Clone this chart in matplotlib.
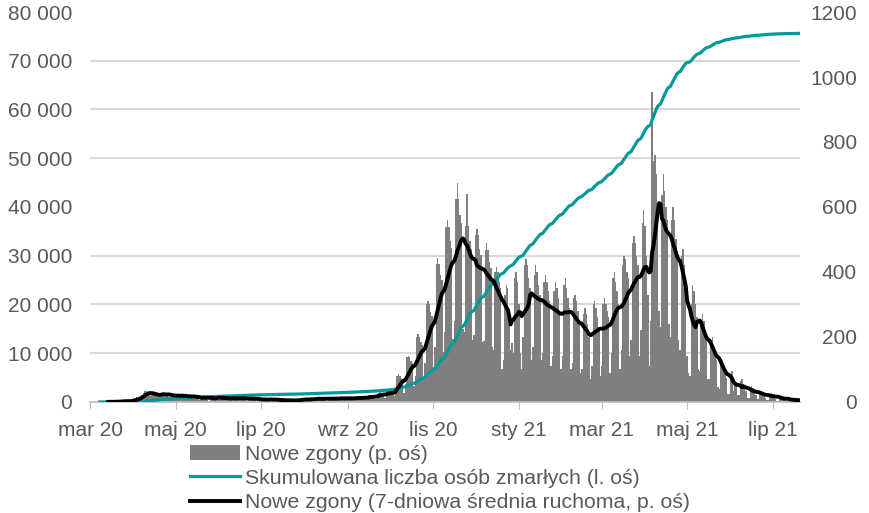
import numpy as np
import pandas as pd
import matplotlib
matplotlib.use("Agg")
import matplotlib.pyplot as plt

plt.rcParams["font.family"] = ["Liberation Sans", "DejaVu Sans"]

# daily new deaths, first value = Sun 8 Mar 2020, then one row per week (Mon..Sun)
new_deaths = [
    0,
    0, 0, 0, 1, 1, 1, 0,
    0, 2, 0, 1, 2, 0, 2,
    4, 2, 4, 2, 3, 2, 2,
    2, 5, 11, 9, 14, 13, 9,
    16, 21, 28, 35, 33, 30, 27,
    18, 20, 25, 27, 22, 26, 15,
    18, 27, 30, 25, 23, 24, 16,
    15, 20, 22, 24, 17, 21, 19,
    9, 24, 23, 17, 20, 18, 12,
    10, 22, 20, 19, 16, 14, 8,
    6, 13, 15, 20, 17, 13, 7,
    3, 12, 18, 10, 14, 17, 12,
    6, 17, 12, 10, 15, 15, 6,
    5, 11, 15, 13, 15, 11, 8,
    6, 13, 15, 13, 14, 10, 3,
    5, 13, 16, 11, 10, 9, 4,
    4, 10, 7, 11, 8, 9, 4,
    3, 12, 10, 7, 9, 8, 3,
    2, 6, 8, 7, 5, 8, 2,
    1, 5, 7, 6, 6, 5, 2,
    3, 9, 9, 11, 8, 11, 2,
    4, 10, 8, 14, 11, 12, 4,
    5, 13, 12, 10, 14, 11, 6,
    4, 15, 12, 11, 14, 10, 8,
    5, 12, 14, 16, 13, 11, 6,
    7, 13, 15, 12, 14, 12, 7,
    6, 15, 18, 14, 16, 12, 9,
    8, 17, 20, 22, 19, 17, 11,
    10, 25, 29, 31, 27, 26, 13,
    12, 35, 38, 36, 33, 30, 18,
    33, 81, 85, 81, 75, 72, 29,
    55, 138, 143, 138, 127, 121, 50,
    80, 200, 208, 200, 184, 176, 72,
    120, 300, 312, 300, 276, 264, 108,
    170, 425, 442, 425, 391, 374, 153,
    215, 538, 559, 538, 495, 473, 194,
    250, 625, 674, 625, 575, 550, 225,
    215, 540, 640, 540, 495, 470, 190,
    205, 513, 533, 513, 472, 451, 185,
    188, 469, 488, 469, 431, 413, 169,
    160, 400, 416, 400, 368, 352, 100,
    130, 330, 360, 350, 240, 160, 180,
    150, 380, 400, 370, 300, 150, 100,
    200, 420, 440, 420, 380, 350, 130,
    170, 390, 420, 400, 360, 330, 130,
    150, 370, 390, 370, 340, 310, 110,
    140, 340, 370, 350, 320, 280, 100,
    140, 360, 380, 350, 320, 290, 100,
    120, 320, 330, 310, 280, 250, 90,
    100, 270, 290, 270, 240, 200, 70,
    110, 300, 310, 290, 260, 230, 80,
    110, 300, 320, 300, 280, 260, 90,
    150, 380, 400, 370, 340, 300, 100,
    160, 420, 450, 440, 400, 380, 140,
    190, 490, 510, 490, 450, 420, 140,
    220, 550, 590, 540, 450, 330, 110,
    250, 954, 740, 760, 700, 600, 280,
    230, 637, 700, 650, 600, 560, 240,
    200, 560, 600, 560, 500, 460, 190,
    160, 450, 470, 420, 350, 140, 90,
    80, 300, 360, 340, 300, 260, 100,
    95, 250, 270, 250, 220, 190, 70,
    70, 190, 200, 175, 155, 130, 45,
    40, 120, 130, 110, 95, 75, 25,
    25, 85, 95, 35, 60, 50, 20,
    20, 65, 70, 55, 45, 35, 12,
    12, 45, 48, 42, 38, 22, 8,
    8, 35, 35, 30, 25, 13, 5,
    6, 26, 28, 24, 18, 10, 4,
    3, 18, 16, 13, 10, 7, 3,
    2, 10, 9, 8, 7, 4, 2,
    1, 6,
]
start_date = "2020-03-08"

tick_dates = ["2020-03-01", "2020-05-01", "2020-07-01", "2020-09-01", "2020-11-01",
              "2021-01-01", "2021-03-01", "2021-05-01", "2021-07-01"]
tick_labels = ["mar 20", "maj 20", "lip 20", "wrz 20", "lis 20",
               "sty 21", "mar 21", "maj 21", "lip 21"]

legend_labels = ["Nowe zgony (p. oś)",
                 "Skumulowana liczba osób zmarłych (l. oś)",
                 "Nowe zgony (7-dniowa średnia ruchoma, p. oś)"]

dates = pd.date_range(start_date, periods=len(new_deaths), freq="D")
daily = pd.Series(new_deaths, index=dates)
avg7 = daily.rolling(7).mean()
cumulative = daily.cumsum()

grey_txt = "#595959"
teal = "#009A9A"

fig = plt.figure(figsize=(8.69, 5.13), dpi=100)
rect = [0.1036, 0.2164, 0.817, 0.7602]
ax_bar = fig.add_axes(rect)
ax_cum = fig.add_axes(rect, sharex=ax_bar)
ax_avg = fig.add_axes(rect, sharex=ax_bar, sharey=ax_bar)

# bottom layer: bars on right scale
bars = ax_bar.bar(dates, daily.values, width=1.0, color="#7F7F7F", linewidth=0)
ax_bar.set_ylim(0, 1200)
ax_bar.set_yticks(np.arange(0, 1201, 200))
ax_bar.set_yticks(np.arange(0, 1201, 150), minor=True)
ax_bar.yaxis.tick_right()
ax_bar.grid(axis="y", which="minor", color="#D9D9D9", linewidth=1.5)
ax_bar.set_axisbelow(True)
ax_bar.tick_params(axis="y", which="both", length=0, labelsize=15, labelcolor=grey_txt, pad=41)
for t in ax_bar.get_yticklabels():
    t.set_ha("right")
for s in ["top", "left", "right"]:
    ax_bar.spines[s].set_visible(False)
ax_bar.spines["bottom"].set_color("#BFBFBF")
ax_bar.spines["bottom"].set_linewidth(1.2)

ax_bar.set_xticks(pd.to_datetime(tick_dates))
ax_bar.set_xticklabels(tick_labels)
ax_bar.tick_params(axis="x", length=5, color="#BFBFBF", labelsize=15, labelcolor=grey_txt, pad=9)
ax_bar.set_xlim(pd.Timestamp("2020-03-01"), pd.Timestamp("2021-07-20") + pd.Timedelta(hours=12))

# middle layer: cumulative on left scale
cum_line, = ax_cum.plot(dates, cumulative.values, color=teal, linewidth=2.3)
ax_cum.set_ylim(0, 80000)
ax_cum.set_yticks(np.arange(0, 80001, 10000))
ax_cum.set_yticklabels([f"{v:,}".replace(",", " ") for v in range(0, 80001, 10000)])
ax_cum.tick_params(axis="y", length=0, labelsize=15, labelcolor=grey_txt, pad=13)
ax_cum.patch.set_visible(False)
ax_cum.xaxis.set_visible(False)
for s in ax_cum.spines.values():
    s.set_visible(False)

# top layer: 7-day average on right scale
avg_line, = ax_avg.plot(dates, avg7.values, color="black", linewidth=2.8)
ax_avg.axis("off")

fig.legend([bars, cum_line, avg_line], legend_labels,
           loc="upper left", bbox_to_anchor=(0.2186, 0.133),
           frameon=False, fontsize=15.3, labelcolor=grey_txt,
           handlelength=2.35, handletextpad=0.25, labelspacing=0.24,
           borderpad=0, borderaxespad=0)

fig.savefig("out.png", dpi=100)
